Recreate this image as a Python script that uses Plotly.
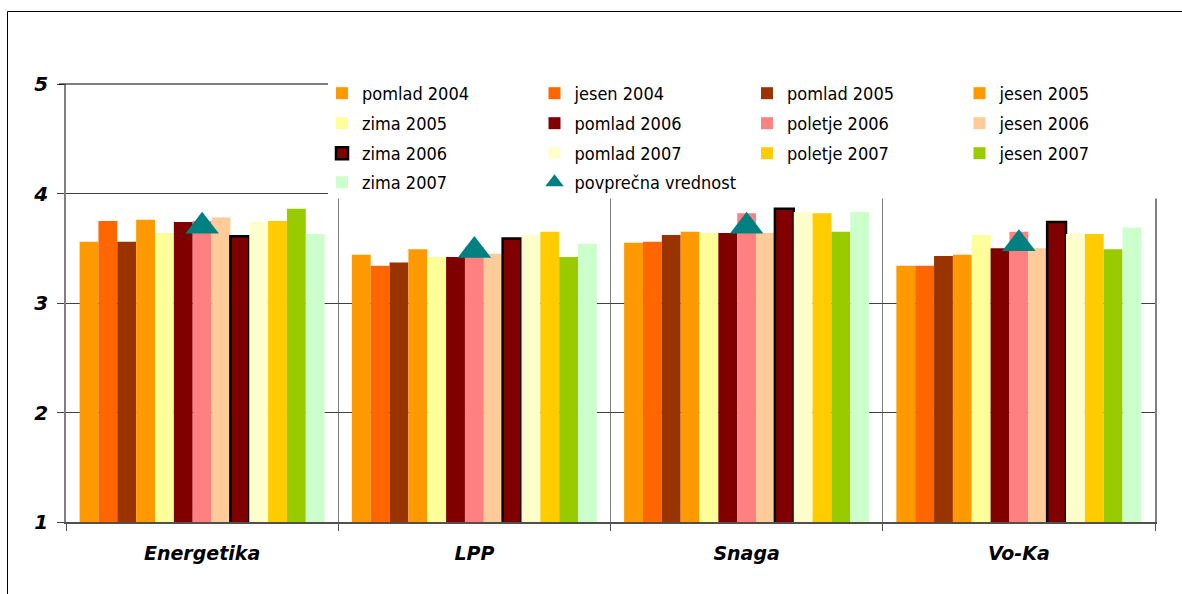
import plotly.graph_objects as go

categories = ["Energetika", "LPP", "Snaga", "Vo-Ka"]
y_ticks = [1, 2, 3, 4, 5]
y_tick_labels = ["1", "2", "3", "4", "5"]

series_names = ["pomlad 2004", "jesen 2004", "pomlad 2005", "jesen 2005",
                "zima 2005", "pomlad 2006", "poletje 2006", "jesen 2006",
                "zima 2006", "pomlad 2007", "poletje 2007", "jesen 2007",
                "zima 2007"]

pomlad_2004 = [3.56, 3.44, 3.55, 3.34]
jesen_2004 = [3.75, 3.34, 3.56, 3.34]
pomlad_2005 = [3.56, 3.37, 3.62, 3.43]
jesen_2005 = [3.76, 3.49, 3.65, 3.44]
zima_2005 = [3.64, 3.42, 3.64, 3.62]
pomlad_2006 = [3.74, 3.42, 3.64, 3.50]
poletje_2006 = [3.75, 3.51, 3.82, 3.65]
jesen_2006 = [3.78, 3.45, 3.64, 3.50]
zima_2006 = [3.61, 3.59, 3.86, 3.74]
pomlad_2007 = [3.74, 3.62, 3.83, 3.63]
poletje_2007 = [3.75, 3.65, 3.82, 3.63]
jesen_2007 = [3.86, 3.42, 3.65, 3.49]
zima_2007 = [3.63, 3.54, 3.83, 3.69]
average_name = "povprečna vrednost"
average_values = [3.70, 3.48, 3.70, 3.54]

series_values = [pomlad_2004, jesen_2004, pomlad_2005, jesen_2005, zima_2005,
                 pomlad_2006, poletje_2006, jesen_2006, zima_2006, pomlad_2007,
                 poletje_2007, jesen_2007, zima_2007]
series_colors = ["#FF9900", "#FF6600", "#993300", "#FF9900", "#FFFF99",
                 "#800000", "#FF8080", "#FFCC99", "#800000", "#FFFFCC",
                 "#FFCC00", "#99CC00", "#CCFFCC"]
outlined = {"zima 2006"}

W, H = 1182, 594
ML, MR, MT, MB = 66, 27, 84, 72
PW, PH = W - ML - MR, H - MT - MB

def px_x(x):
    return (x - ML) / PW

def px_y(y):
    return (H - MB - y) / PH

legend_font = dict(family="DejaVu Sans Condensed, Liberation Sans, sans-serif",
                   size=18, color="#000000")
legend_ids = ["legend", "legend2", "legend3", "legend4"]
row_tops = [75, 105, 135, 164]

fig = go.Figure()
for i, (name, vals, col) in enumerate(zip(series_names, series_values, series_colors)):
    fig.add_trace(go.Bar(
        x=categories, y=vals, name=name,
        marker=dict(color=col,
                    line=dict(color="#000000", width=2.5 if name in outlined else 0)),
        legend=legend_ids[i // 4],
    ))

fig.add_trace(go.Scatter(
    x=categories, y=average_values, name=average_name, mode="markers",
    marker=dict(symbol="triangle-up", size=29, color="#008080"),
    legend="legend4",
))

leg_x = px_x(322)
legend_layouts = {}
for lid, top in zip(legend_ids, row_tops):
    legend_layouts[lid] = dict(
        orientation="h", x=leg_x, xanchor="left", y=px_y(top), yanchor="top",
        font=legend_font, bgcolor="rgba(0,0,0,0)", borderwidth=0,
        entrywidth=167.5, entrywidthmode="pixels", traceorder="normal",
    )

fig.update_layout(
    width=W, height=H,
    margin=dict(l=ML, r=MR, t=MT, b=MB, autoexpand=False),
    paper_bgcolor="#FFFFFF", plot_bgcolor="#FFFFFF",
    barmode="group", bargap=0.1, bargroupgap=0,
    showlegend=True,
    **legend_layouts,
    shapes=[
        dict(type="line", xref="paper", yref="paper",
             x0=px_x(59), x1=px_x(1155), y0=1, y1=1,
             line=dict(color="#000000", width=1), layer="above"),
        dict(type="rect", xref="paper", yref="paper",
             x0=px_x(328), x1=px_x(1190), y0=px_y(198.5), y1=px_y(72),
             fillcolor="#FFFFFF", line=dict(width=0), layer="above"),
        dict(type="rect", xref="paper", yref="paper",
             x0=px_x(7.5), x1=px_x(1200), y0=px_y(620), y1=px_y(11.5),
             fillcolor="rgba(0,0,0,0)", line=dict(color="#000000", width=1),
             layer="above"),
    ],
)

fig.update_xaxes(
    type="category", showline=True, linecolor="#505050", linewidth=1.5,
    showgrid=True, gridcolor="#808080", gridwidth=1,
    tickson="boundaries", ticks="outside", ticklen=7, tickcolor="#505050",
    tickfont=dict(family="DejaVu Sans", size=19, color="#000000",
                  weight="bold", style="italic"),
    ticklabelstandoff=13,
)
fig.update_yaxes(
    range=[1, 5], tickvals=y_ticks, ticktext=y_tick_labels,
    showline=True, linecolor="#808080", linewidth=1.5, mirror=True,
    showgrid=True, gridcolor="#404040", gridwidth=1, zeroline=False,
    ticks="outside", ticklen=7, tickcolor="#404040",
    tickfont=dict(family="DejaVu Sans", size=20, color="#000000",
                  weight="bold", style="italic"),
    ticklabelstandoff=5,
)

fig.write_html("out.html", config={"displayModeBar": False},
               post_script="document.body.style.margin='0px';")
